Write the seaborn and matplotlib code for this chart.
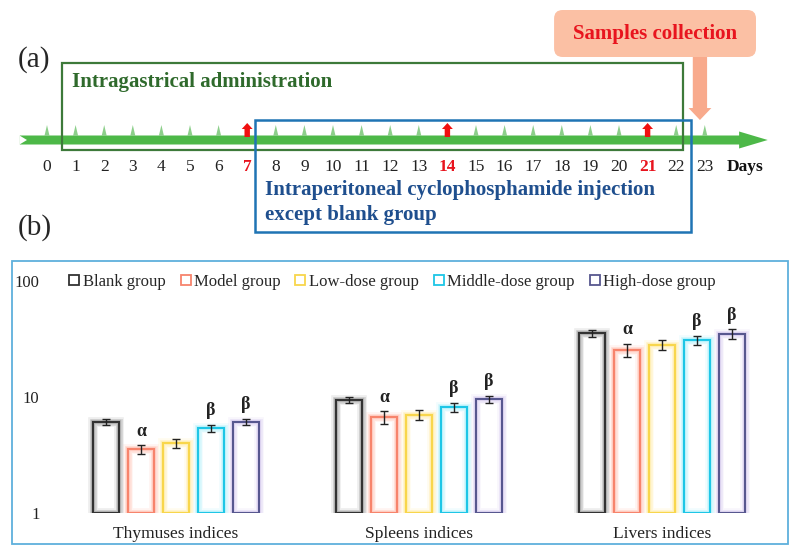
import numpy as np
import pandas as pd
import seaborn as sns
import matplotlib.pyplot as plt
from matplotlib import patches
from matplotlib import patheffects as pe
from matplotlib.lines import Line2D

# ====================
# Data
# ====================

days = list(range(24))
dose_days = [7, 14, 21]
collect_day = 23

organs = ['Thymuses indices', 'Spleens indices', 'Livers indices']
groups = ['Blank group', 'Model group', 'Low-dose group', 'Middle-dose group', 'High-dose group']
thymus = [6.1, 3.55, 4.0, 5.4, 6.1]
spleen = [9.4, 6.7, 7.0, 8.2, 9.6]
liver = [35.5, 25.4, 28.0, 31.0, 35.0]
thymus_err = [0.37, 0.3, 0.36, 0.38, 0.37]
spleen_err = [0.6, 0.85, 0.7, 0.75, 0.65]
liver_err = [2.5, 3.4, 2.8, 2.8, 3.4]
marks = ['', 'α', '', 'β', 'β']

edge_colors = ['#333333', '#f7846c', '#f8d64c', '#1ec6e6', '#57578f']
glow_colors = ['#7a7a7a', '#ffa894', '#ffe680', '#8eecfc', '#c8b6ec']

values = [thymus, spleen, liver]
errors = [thymus_err, spleen_err, liver_err]
df = pd.DataFrame({
    'organ': np.repeat(organs, len(groups)),
    'group': groups * len(organs),
    'value': np.concatenate(values),
})

# ====================
# Plotting
# ====================

sns.set_style('white')
plt.rcParams['font.family'] = ['Liberation Serif', 'DejaVu Serif']
W, H = 797, 552
fig = plt.figure(figsize=(W / 100, H / 100), dpi=100)

# ---- (a) timeline, x in days, y in pixels from top
top_h = 250
px_per_day = 28.6
x0 = 47
ax_a = fig.add_axes([0, 1 - top_h / H, 1, top_h / H])
ax_a.set_xlim(-x0 / px_per_day, (W - x0) / px_per_day)
ax_a.set_ylim(top_h, 0)
ax_a.axis('off')

line_green = '#4db848'
ax_a.add_patch(patches.FancyArrow(-0.95, 140, 26.15, 0, width=9, head_width=17,
                                  head_length=1.0, length_includes_head=True,
                                  color=line_green, lw=0, zorder=2))
ax_a.add_patch(patches.Polygon([(-0.96, 135.5), (-0.7, 140), (-0.96, 144.5)],
                               closed=True, color='white', lw=0, zorder=2))
for d in days:
    if d in dose_days:
        ax_a.add_patch(patches.FancyArrow(d, 137, 0, -14, width=0.19, head_width=0.38,
                                          head_length=6, length_includes_head=True,
                                          color='#f01010', lw=0, zorder=3))
    else:
        ax_a.add_patch(patches.Polygon([(d - 0.09, 136), (d, 125), (d + 0.09, 136)],
                                       closed=True, color='#8ccf8a', lw=0, zorder=3))
    is_dose = d in dose_days
    ax_a.text(d, 167, str(d), ha='center', va='center', fontsize=12.5,
              color='#e8141e' if is_dose else '#222222',
              fontweight='bold' if is_dose else 'normal')
ax_a.text(24.4, 167, 'Days', ha='center', va='center', fontsize=12.5,
          fontweight='bold', color='#111111')

ax_a.add_patch(patches.Rectangle((0.52, 63), 21.72, 87, fill=False,
                                 ec='#3d7a3a', lw=1.6, zorder=4))
ax_a.text(0.87, 82, 'Intragastrical administration', ha='left', va='center',
          fontsize=15, fontweight='bold', color='#2f6a2c')

ax_a.add_patch(patches.Rectangle((7.27, 120), 15.25, 112, fill=False,
                                 ec='#1f74b4', lw=1.8, zorder=4))
ax_a.text(7.62, 190, 'Intraperitoneal cyclophosphamide injection', ha='left',
          va='center', fontsize=15, fontweight='bold', color='#1f4f8e')
ax_a.text(7.62, 215, 'except blank group', ha='left', va='center',
          fontsize=15, fontweight='bold', color='#1f4f8e')

ax_a.add_patch(patches.FancyBboxPatch((17.73, 10), 7.06, 47,
                                      boxstyle='round,pad=0,rounding_size=0.3',
                                      mutation_aspect=px_per_day,
                                      fc='#fbc0a4', ec='none', zorder=2))
ax_a.text(21.26, 34, 'Samples collection', ha='center', va='center',
          fontsize=15, fontweight='bold', color='#e8141e', zorder=3)
ax_a.add_patch(patches.FancyArrow(collect_day - 0.17, 57, 0, 63, width=0.5,
                                  head_width=0.8, head_length=12,
                                  length_includes_head=True,
                                  color='#f8aa8c', lw=0, zorder=2))

ax_a.text(-0.45, 60, '(a)', ha='center', va='center', fontsize=21)
ax_a.text(-0.43, 228, '(b)', ha='center', va='center', fontsize=21)

# ---- (b) organ indices
fig.add_artist(patches.Rectangle((12 / W, 1 - 544 / H), 776 / W, 283 / H,
                                 transform=fig.transFigure, fill=False,
                                 ec='#5eb0dc', lw=1.3))

ax_b = fig.add_axes([45 / W, (H - 513) / H, 735 / W, 232 / H])
sns.barplot(data=df, x='organ', y='value', hue='group', hue_order=groups,
            palette=edge_colors, fill=False, width=0.72, gap=0.26,
            linewidth=1.5, legend=False, ax=ax_b)
ax_b.set_yscale('log')

bar_sets = list(ax_b.containers)
for k, container in enumerate(bar_sets):
    gc = glow_colors[k]
    glow = [pe.Stroke(linewidth=7, foreground=gc, alpha=0.12),
            pe.Stroke(linewidth=5, foreground=gc, alpha=0.2),
            pe.Stroke(linewidth=3.2, foreground=gc, alpha=0.35),
            pe.Normal()]
    for j, bar in enumerate(container):
        bar.set_y(1)
        bar.set_height(values[j][k] - 1)
        bar.set_path_effects(glow)
        xc = bar.get_x() + bar.get_width() / 2
        ax_b.errorbar(xc, values[j][k], yerr=errors[j][k], fmt='none',
                      ecolor='#222222', elinewidth=1.0, capsize=3, capthick=1.0,
                      zorder=5)
        if marks[k]:
            ax_b.annotate(marks[k], (xc, values[j][k] + errors[j][k]),
                          xytext=(0, 4), textcoords='offset points',
                          ha='center', va='bottom', fontsize=13,
                          fontweight='bold', color='#222222')

ax_b.set_xlim(-(176 - 45) / 243, (780 - 176) / 243)
ax_b.set_ylim(1, 100)
ax_b.set_yticks([1, 10, 100])
ax_b.set_yticklabels(['1', '10', '100'])
ax_b.yaxis.set_minor_locator(plt.NullLocator())
ax_b.tick_params(axis='y', length=0, pad=4, labelsize=12, labelcolor='#222222')
ax_b.tick_params(axis='x', length=0, pad=9.5, labelsize=12.5, labelcolor='#222222')
ax_b.set_xlabel('')
ax_b.set_ylabel('')
for s in ax_b.spines.values():
    s.set_visible(False)
ax_b.patch.set_alpha(0)

handles = [Line2D([], [], ls='none', marker='s', markersize=6.5, markerfacecolor='white',
                  markeredgecolor=c, markeredgewidth=1.3) for c in edge_colors]
ax_b.legend(handles, groups, loc='center left', bbox_to_anchor=(0.031, 0.996),
            ncol=5, frameon=False, fontsize=12, handlelength=0.8,
            handletextpad=0.1, columnspacing=0.8, borderpad=0, borderaxespad=0)

fig.savefig('out.png', dpi=100)
